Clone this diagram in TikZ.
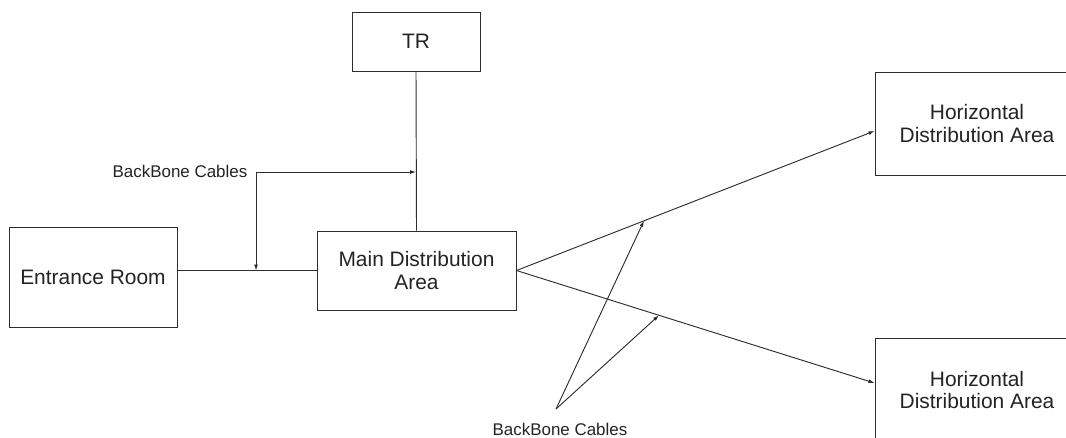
\documentclass[tikz,border=0pt]{standalone}
\usepackage{fontspec}
\setmainfont{Liberation Sans}
\definecolor{LineGray}{RGB}{45, 45, 45}
\definecolor{TextGray}{RGB}{35, 35, 35}
\usetikzlibrary{arrows.meta,calc}

\begin{document}
\begin{tikzpicture}[x=0.75pt, y=-0.75pt,
    room/.style={draw=LineGray, line width=0.7pt, align=center, inner sep=0pt,
                 text=TextGray, font=\fontsize{15.7}{16.8}\selectfont},
    cable/.style={draw=LineGray, line width=0.7pt},
    tipped/.style={-{Latex[length=4.5pt,width=3pt]}},
    tag/.style={text=TextGray, inner sep=0pt, font=\fontsize{12.7}{14}\selectfont}]
        \useasboundingbox (0,0) rectangle (1066,437);
        \clip (0,0) rectangle (1066,437);
        % rooms
        \node[room, minimum width=96pt, minimum height=44.25pt] (tr) at (416,41.5) {TR};
        \node[room, minimum width=126pt, minimum height=75pt] (entrance) at (93,277) {Entrance Room};
        \node[room, minimum width=149.25pt, minimum height=59.25pt] (mda) at (416.5,270.5) {Main Distribution\\Area};
        \node[room, minimum width=153pt, minimum height=77.25pt] (hdaup) at (977,123.5) {Horizontal\\Distribution Area};
        \node[room, minimum width=153pt, minimum height=78pt] (hdalow) at (977,390) {Horizontal\\Distribution Area};
        % labels
        \node[tag] (bbup) at (180,171) {BackBone Cables};
        \node[tag] (bblow) at (560,429) {BackBone Cables};
        % cables
        \draw[cable] (tr.south) -- (mda.north);
        \draw[cable] (mda.west) -- (mda.west -| entrance.east);
        \draw[cable, tipped] (mda.east) -- ([yshift=-5.6pt]hdaup.west) coordinate (upend);
        \draw[cable, tipped] (mda.east) -- ([yshift=5.25pt]hdalow.west) coordinate (lowend);
        % backbone pointers
        \coordinate (bend) at (256,172);
        \coordinate (fork) at (556,409);
        \draw[cable, tipped] (bend) -- (bend -| tr.south);
        \draw[cable, tipped] (bend) -- (bend |- mda.west);
        \draw[cable, tipped] (fork) -- ($(mda.east)!0.356!(upend)$);
        \draw[cable, tipped] (fork) -- ($(mda.east)!0.398!(lowend)$);
      \end{tikzpicture}
\end{document}
